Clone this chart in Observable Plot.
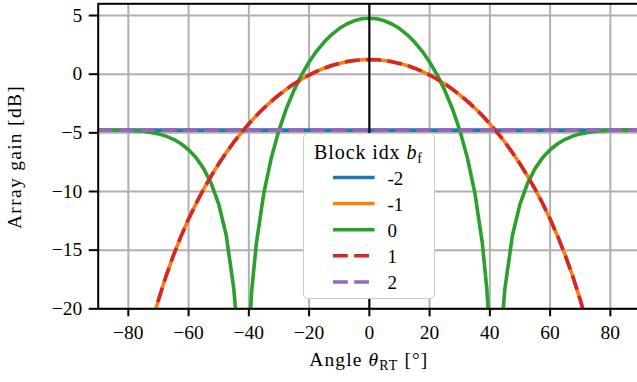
<!DOCTYPE html>
<html>
<head>
<meta charset="utf-8">
<script src="https://cdn.jsdelivr.net/npm/d3@7"></script>
<script src="https://cdn.jsdelivr.net/npm/@observablehq/plot@0.6"></script>
<style>
  html, body { margin: 0; padding: 0; background: #fff; overflow: hidden; }
  #wrap { position: relative; width: 637px; height: 382px; overflow: hidden;
          font-family: "Liberation Serif", "Times New Roman", serif; color: #000; }
  #wrap > svg { max-width: none !important; width: 643px; height: 382px; display: block; }
  #legend { position: absolute; left: 302.5px; top: 133px; width: 130px; height: 164px;
            border: 1.5px solid #cccccc; border-radius: 5px; background: #fff; }
  #legend .t { position: absolute; white-space: nowrap; line-height: 1; font-size: 19px;
               transform: translateY(-50%); }
  #legend svg { position: absolute; left: 0; top: 0; }
</style>
</head>
<body>
<div id="wrap"></div>
<script>
// ---------------- data ----------------
const angles = [-90, -87.5, -85, -82.5, -80, -77.5, -75, -72.5, -70, -67.5, -65, -62.5, -60, -57.5, -55, -52.5, -50, -47.5, -45, -44, -42.5, -40, -39, -37.5, -35, -32.5, -30, -27.5, -25, -22.5, -20, -17.5, -15, -12.5, -10, -7.5, -5, -2.5,
  0, 2.5, 5, 7.5, 10, 12.5, 15, 17.5, 20, 22.5, 25, 27.5, 30, 32.5, 35, 37.5, 39, 40, 42.5, 44, 45, 47.5, 50, 52.5, 55, 57.5, 60, 62.5, 65, 67.5, 70, 72.5, 75, 77.5, 80, 82.5, 85, 87.5, 90];

// block index 0 (green)
const gain0 = [-4.77, -4.77, -4.77, -4.78, -4.79, -4.82, -4.87, -4.96, -5.09, -5.28, -5.55, -5.93, -6.44, -7.12, -8.05, -9.31, -11.08, -13.73, -18.27, -21.35, -31.12, -22.32, -18.34, -14.41, -10.09, -7.09, -4.77, -2.90, -1.36, -0.06, 1.04, 1.97, 2.74, 3.38, 3.89, 4.28, 4.55, 4.72,
  4.77, 4.72, 4.55, 4.28, 3.89, 3.38, 2.74, 1.97, 1.04, -0.06, -1.36, -2.90, -4.77, -7.09, -10.09, -14.41, -18.34, -22.32, -31.12, -21.35, -18.27, -13.73, -11.08, -9.31, -8.05, -7.12, -6.44, -5.93, -5.55, -5.28, -5.09, -4.96, -4.87, -4.82, -4.79, -4.78, -4.77, -4.77, -4.77];

// block index -1 (orange) and +1 (red, dashed) coincide
const gainM1 = [null, -55.2, -43.22, -36.19, -31.19, -27.34, -24.19, -21.53, -19.24, -17.22, -15.43, -13.81, -12.35, -11.02, -9.80, -8.68, -7.64, -6.69, -5.80, -5.47, -4.99, -4.23, -3.95, -3.53, -2.89, -2.30, -1.76, -1.27, -0.82, -0.43, -0.07, 0.24, 0.51, 0.74, 0.92, 1.07, 1.17, 1.23,
  1.25, 1.23, 1.17, 1.07, 0.92, 0.74, 0.51, 0.24, -0.07, -0.43, -0.82, -1.27, -1.76, -2.30, -2.89, -3.53, -3.95, -4.23, -4.99, -5.47, -5.80, -6.69, -7.64, -8.68, -9.80, -11.02, -12.35, -13.81, -15.43, -17.22, -19.24, -21.53, -24.19, -27.34, -31.19, -36.19, -43.22, -55.2, null];
const gainP1 = [null, -55.2, -43.22, -36.19, -31.19, -27.34, -24.19, -21.53, -19.24, -17.22, -15.43, -13.81, -12.35, -11.02, -9.80, -8.68, -7.64, -6.69, -5.80, -5.47, -4.99, -4.23, -3.95, -3.53, -2.89, -2.30, -1.76, -1.27, -0.82, -0.43, -0.07, 0.24, 0.51, 0.74, 0.92, 1.07, 1.17, 1.23,
  1.25, 1.23, 1.17, 1.07, 0.92, 0.74, 0.51, 0.24, -0.07, -0.43, -0.82, -1.27, -1.76, -2.30, -2.89, -3.53, -3.95, -4.23, -4.99, -5.47, -5.80, -6.69, -7.64, -8.68, -9.80, -11.02, -12.35, -13.81, -15.43, -17.22, -19.24, -21.53, -24.19, -27.34, -31.19, -36.19, -43.22, -55.2, null];

// block index -2 (blue) and +2 (purple, dashed): flat
const flatAngles = [-90, 90];
const gainM2 = [-4.77, -4.77];
const gainP2 = [-4.77, -4.77];

const seriesLabels = ["-2", "-1", "0", "1", "2"];
const seriesColors = ["#1f77b4", "#ff7f0e", "#2ca02c", "#d62728", "#9467bd"];
const seriesDashed = [false, false, false, true, true];

const xTicks = [-80, -60, -40, -20, 0, 20, 40, 60, 80];
const yTicks = [-20, -15, -10, -5, 0, 5];

// ---------------- tables ----------------
const tbl = (xs, ys) => xs.map((x, i) => ({angle: x, gain: ys[i]}));
const series = [
  tbl(flatAngles, gainM2),
  tbl(angles, gainM1),
  tbl(angles, gain0),
  tbl(angles, gainP1),
  tbl(flatAngles, gainP2)
];

const LW = 3.6;
const DASH = "14.8,6.4";

const lineMarks = series.map((d, i) => Plot.line(d, {
  x: "angle", y: "gain", stroke: seriesColors[i], strokeWidth: LW, clip: true,
  strokeDasharray: seriesDashed[i] ? DASH : null,
  strokeLinecap: seriesDashed[i] ? "butt" : "round",
  strokeLinejoin: "round"
}));

const chart = Plot.plot({
  width: 643, height: 382,
  marginLeft: 97.7, marginRight: 3, marginTop: 3.3, marginBottom: 73.7,
  style: {fontFamily: '"Liberation Serif", "Times New Roman", serif', fontSize: "19.5px", background: "white", overflow: "visible", maxWidth: "none"},
  x: {domain: [-90, 90]},
  y: {domain: [-20, 6]},
  marks: [
    Plot.gridX(xTicks, {stroke: "#b0b0b0", strokeOpacity: 1, strokeWidth: 2}),
    Plot.gridY(yTicks, {stroke: "#b0b0b0", strokeOpacity: 1, strokeWidth: 2}),
    ...lineMarks,
    Plot.ruleX([0], {stroke: "black", strokeWidth: 2}),
    Plot.frame({stroke: "black", strokeWidth: 2}),
    Plot.axisX(xTicks, {tickSize: 8, tickPadding: 8, strokeWidth: 2, label: null}),
    Plot.axisY(yTicks, {tickSize: 9, tickPadding: 7, strokeWidth: 2, label: null})
  ]
});

const wrap = document.getElementById("wrap");
wrap.appendChild(chart);

// axis titles
const svg = d3.select(chart);
const xl = svg.append("text")
  .attr("x", 368.9).attr("y", 366)
  .attr("text-anchor", "middle")
  .attr("font-size", 19.5)
  .attr("letter-spacing", "1.1px")
  .attr("fill", "black");
xl.append("tspan").text("Angle ");
xl.append("tspan").attr("font-style", "italic").text("θ");
xl.append("tspan").attr("font-size", 14).attr("dy", 4).text("RT");
xl.append("tspan").attr("dy", -4).text(" [°]");

svg.append("text")
  .attr("transform", "translate(21,157) rotate(-90)")
  .attr("text-anchor", "middle")
  .attr("font-size", 19.5)
  .attr("letter-spacing", "1.3px")
  .attr("fill", "black")
  .text("Array gain [dB]");

// legend
const legend = document.createElement("div");
legend.id = "legend";
wrap.appendChild(legend);
const title = document.createElement("div");
title.className = "t";
title.style.left = "0"; title.style.width = "130px"; title.style.textAlign = "center";
title.style.top = "17.5px";
title.style.fontSize = "20px";
title.style.letterSpacing = "0.9px";
title.innerHTML = 'Block idx <i>b</i><span style="font-size:14px;position:relative;top:4px">f</span>';
legend.appendChild(title);

const ls = d3.select(legend).append("svg").attr("width", 130).attr("height", 164);
const rowY = [43.5, 69.5, 95.8, 121.8, 148];
seriesLabels.forEach((lab, i) => {
  ls.append("line")
    .attr("x1", 29).attr("x2", 70.6).attr("y1", rowY[i]).attr("y2", rowY[i])
    .attr("stroke", seriesColors[i]).attr("stroke-width", LW)
    .attr("stroke-dasharray", seriesDashed[i] ? DASH : null)
    .attr("stroke-linecap", "butt");
  const t = document.createElement("div");
  t.className = "t";
  t.style.left = "84px";
  t.style.top = rowY[i] + "px";
  t.textContent = lab;
  legend.appendChild(t);
});
</script>
</body>
</html>
